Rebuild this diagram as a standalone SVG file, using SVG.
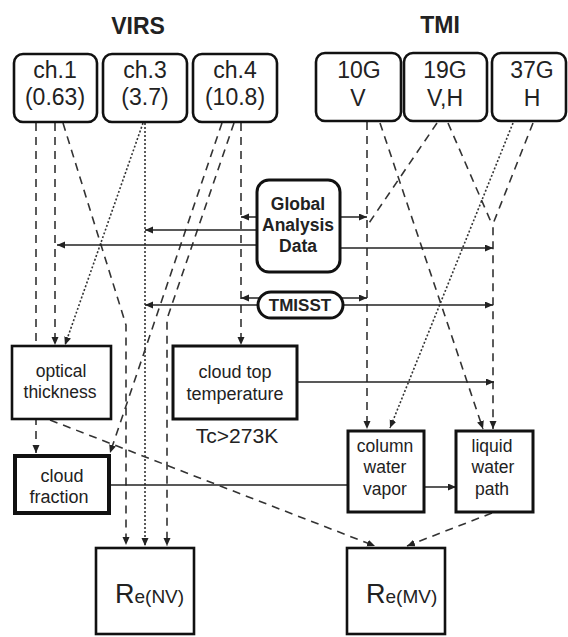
<svg xmlns="http://www.w3.org/2000/svg" width="568" height="637" viewBox="0 0 568 637">
<defs>
<marker id="ah" markerUnits="userSpaceOnUse" markerWidth="9" markerHeight="8" refX="8" refY="3.5" orient="auto">
<path d="M0,0 L8,3.5 L0,7 z" fill="#222"/>
</marker>
<style>
.t{font-family:"Liberation Sans",Arial,sans-serif;fill:#222;text-anchor:middle}
.b{font-weight:bold}
.rb{fill:#fff;stroke:#111;stroke-width:2.6}
.bx{fill:#fff;stroke:#111}
.sl{fill:none;stroke:#222;stroke-width:1.5}
.da{fill:none;stroke:#333;stroke-width:1.6;stroke-dasharray:8 6}
.dt{fill:none;stroke:#333;stroke-width:1.6;stroke-dasharray:2 2}
.ar{marker-end:url(#ah)}
</style>
</defs>
<rect width="568" height="637" fill="#fff"/>
<text class="t b" x="138" y="34" font-size="23">VIRS</text>
<text class="t b" x="440" y="33" font-size="23">TMI</text>
<g id="connectors">
<path class="da ar" d="M36,123 L36,453"/>
<path class="da ar" d="M55,123 L55,345"/>
<path class="da ar" d="M63,123 L126,325 L126,545"/>
<path class="dt ar" d="M145,123 L145,546"/>
<path class="dt ar" d="M143,123 L65,345"/>
<path class="da ar" d="M241,123 L241,345"/>
<path class="da ar" d="M222,123 L110,453"/>
<path class="da ar" d="M234,123 L167,319 L167,546"/>
<path class="da ar" d="M367,122 L367,429"/>
<path class="da ar" d="M380,123 L483,429"/>
<path class="da" d="M437,123 L367,226"/>
<path class="da" d="M448,123 L491,222"/>
<path class="da ar" d="M533,123 L493,224 L493,429"/>
<path class="dt ar" d="M513,123 L390,428"/>
<path class="sl ar" d="M257,217 L241,217"/>
<path class="sl ar" d="M340,217 L367,217"/>
<path class="sl ar" d="M257,230 L145,230"/>
<path class="sl ar" d="M257,245 L57,245"/>
<path class="sl ar" d="M340,248 L493,248"/>
<path class="sl ar" d="M260,298 L241,298"/>
<path class="sl ar" d="M341,298 L367,298"/>
<path class="sl ar" d="M259,305 L145,305"/>
<path class="sl ar" d="M342,305 L493,305"/>
<path class="sl ar" d="M297,382 L494,382"/>
<path class="sl" d="M109,485 L348,485"/>
<path class="sl ar" d="M424,487 L456,487"/>
<path class="da ar" d="M50,420 L375,546"/>
<path class="da ar" d="M492,513 L407,546"/>
</g>
<g id="ch1"><rect class="rb" x="14" y="54" width="83" height="68" rx="9"/><text class="t" x="55" y="78" font-size="23">ch.1</text><text class="t" x="55" y="105" font-size="23">(0.63)</text></g>
<g id="ch3"><rect class="rb" x="103" y="54" width="84" height="68" rx="9"/><text class="t" x="145" y="78" font-size="23">ch.3</text><text class="t" x="145" y="105" font-size="23">(3.7)</text></g>
<g id="ch4"><rect class="rb" x="193" y="54" width="84" height="68" rx="9"/><text class="t" x="235" y="78" font-size="23">ch.4</text><text class="t" x="235" y="105" font-size="23">(10.8)</text></g>
<g id="g10"><rect class="rb" x="316" y="53" width="85" height="68" rx="9"/><text class="t" x="359" y="78" font-size="23">10G</text><text class="t" x="358" y="106" font-size="23">V</text></g>
<g id="g19"><rect class="rb" x="404" y="53" width="83" height="68" rx="9"/><text class="t" x="445" y="78" font-size="23">19G</text><text class="t" x="445" y="106" font-size="23">V,H</text></g>
<g id="g37"><rect class="rb" x="492" y="53" width="74" height="68" rx="9"/><text class="t" x="532" y="78" font-size="23">37G</text><text class="t" x="532" y="106" font-size="23">H</text></g>
<g id="gad"><rect class="bx" x="257" y="180" width="83" height="92" rx="12" stroke-width="3"/><text class="t b" x="298" y="210" font-size="17.5">Global</text><text class="t b" x="298" y="231" font-size="17.5">Analysis</text><text class="t b" x="298" y="252" font-size="17.5">Data</text></g>
<g id="tmisst"><rect class="bx" x="258" y="292" width="85" height="26" rx="13" stroke-width="3"/><text class="t b" x="300" y="311" font-size="17">TMISST</text></g>
<g id="optical"><rect class="bx" x="12" y="346" width="99" height="73" stroke-width="2.6"/><text class="t" x="61" y="377" font-size="17.5">optical</text><text class="t" x="60" y="398" font-size="17.5">thickness</text></g>
<g id="ctt"><rect class="bx" x="173" y="346" width="124" height="73" stroke-width="3"/><text class="t" x="235" y="378" font-size="18">cloud top</text><text class="t" x="235" y="400" font-size="18">temperature</text><text class="t" x="237" y="443" font-size="21">Tc&gt;273K</text></g>
<g id="cf"><rect class="bx" x="15" y="456" width="94" height="57" stroke-width="4"/><text class="t" x="62" y="482" font-size="18">cloud</text><text class="t" x="59" y="503" font-size="18">fraction</text></g>
<g id="cwv"><rect class="bx" x="348" y="431" width="76" height="81" stroke-width="3"/><text class="t" x="385" y="452" font-size="17.5">column</text><text class="t" x="385" y="473" font-size="17.5">water</text><text class="t" x="385" y="495" font-size="17.5">vapor</text></g>
<g id="lwp"><rect class="bx" x="456" y="431" width="77" height="81" stroke-width="3"/><text class="t" x="492" y="452" font-size="17.5">liquid</text><text class="t" x="493" y="473" font-size="17.5">water</text><text class="t" x="492" y="495" font-size="17.5">path</text></g>
<g id="renv"><rect class="bx" x="96" y="548" width="98" height="86" stroke-width="2.6"/><text class="t" x="115" y="603" font-size="27" style="text-anchor:start">R<tspan font-size="19">e(NV)</tspan></text></g>
<g id="remv"><rect class="bx" x="347" y="548" width="98" height="86" stroke-width="2.6"/><text class="t" x="366" y="603" font-size="27" style="text-anchor:start">R<tspan font-size="19">e(MV)</tspan></text></g>
</svg>
